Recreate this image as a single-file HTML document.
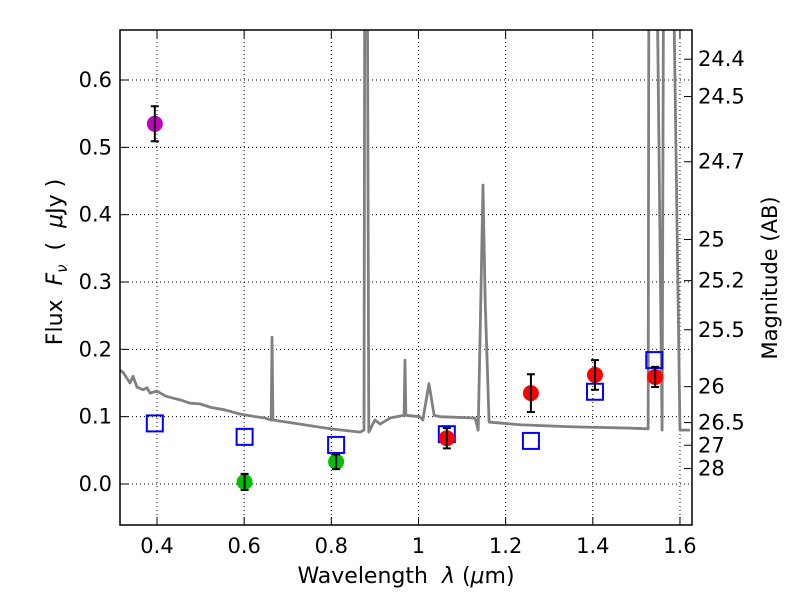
<!DOCTYPE html>
<html><head><meta charset="utf-8"><style>
html,body{margin:0;padding:0;background:#fff;}
svg text{font-family:"DejaVu Sans","Liberation Sans",sans-serif;}
</style></head><body>
<svg id="chart" width="800" height="600" xmlns="http://www.w3.org/2000/svg">
<defs><clipPath id="pc"><rect x="120" y="30" width="572" height="495"/></clipPath></defs>
<rect x="0" y="0" width="800" height="600" fill="#fff"/>
<g id="grid"></g>
<g id="spec" clip-path="url(#pc)"></g>
<g id="marks" clip-path="url(#pc)"></g>
<rect x="120" y="30" width="572" height="495" fill="none" stroke="#000" stroke-width="1.5"/>
<g id="axes"></g>
<text x="406" y="583" font-size="22" text-anchor="middle" xml:space="preserve">Wavelength  <tspan font-style="italic">λ</tspan> (<tspan font-style="italic">μ</tspan>m)</text>
<text transform="translate(62,262) rotate(-90)" font-size="22" text-anchor="middle" xml:space="preserve">Flux  <tspan font-style="italic">F</tspan><tspan font-style="italic" font-size="15" dy="5">ν</tspan><tspan dy="-5">  (  </tspan><tspan font-style="italic">μ</tspan>Jy )</text>
<text transform="translate(777,278) rotate(-90)" font-size="21" text-anchor="middle">Magnitude (AB)</text>
</svg>
<script>
const xTicks=[0.4,0.6,0.8,1.0,1.2,1.4,1.6];
const xTickLabels=["0.4","0.6","0.8","1","1.2","1.4","1.6"];
const yTicks=[0,0.1,0.2,0.3,0.4,0.5,0.6];
const yTickLabels=["0.0","0.1","0.2","0.3","0.4","0.5","0.6"];
const magTicks=[24.4,24.5,24.7,25,25.2,25.5,26,26.5,27,28];
const specLam=[0.315,0.322,0.331,0.338,0.345,0.354,0.368,0.377,0.384,0.4,0.418,0.434,0.453,0.476,0.499,0.522,0.556,0.59,0.625,0.648,0.662,0.664,0.666,0.728,0.797,0.866,0.875,0.877,0.882,0.886,0.9,0.912,0.935,0.958,0.967,0.969,0.971,1.003,1.01,1.024,1.036,1.049,1.13,1.137,1.143,1.148,1.153,1.162,1.233,1.348,1.485,1.527,1.529,1.536,1.545,1.559,1.563,1.572,1.582,1.6,1.623];
const specFlux=[0.169,0.166,0.157,0.150,0.160,0.144,0.140,0.143,0.135,0.138,0.131,0.128,0.125,0.120,0.119,0.114,0.110,0.104,0.100,0.098,0.095,0.218,0.095,0.089,0.082,0.077,0.080,0.9,0.9,0.077,0.095,0.089,0.098,0.101,0.102,0.184,0.102,0.100,0.095,0.149,0.102,0.100,0.098,0.080,0.273,0.444,0.273,0.092,0.088,0.085,0.083,0.082,0.9,0.9,0.9,0.080,0.9,0.9,0.9,0.080,0.080];
const purpleLam=[0.395],purpleFlux=[0.535],purpleErr=[0.026];
const greenLam=[0.601,0.811],greenFlux=[0.003,0.033],greenErr=[0.012,0.011];
const redLam=[1.065,1.258,1.405,1.543],redFlux=[0.068,0.135,0.162,0.159],redErr=[0.015,0.028,0.022,0.015];
const modelLam=[0.395,0.601,0.811,1.065,1.258,1.405,1.541],modelFlux=[0.090,0.070,0.058,0.074,0.064,0.137,0.184];

const X=l=>157+(l-0.4)*435.8;
const Y=f=>484-f*673.3;
const NS="http://www.w3.org/2000/svg";
function mk(tag,parent,attrs){const e=document.createElementNS(NS,tag);for(const k in attrs)e.setAttribute(k,attrs[k]);document.getElementById(parent).appendChild(e);return e;}
xTicks.forEach((t,i)=>{
 const g=mk('line','grid',{x1:X(t),x2:X(t),y1:30,y2:525,stroke:'#000','stroke-width':1,'stroke-dasharray':'1,3'});
 
 
 const a=mk('line','axes',{x1:X(t),x2:X(t),y1:525,y2:517,stroke:'#000'});
 
 
 const b=mk('line','axes',{x1:X(t),x2:X(t),y1:30,y2:38,stroke:'#000'});
 
 
 const tx=mk('text','axes',{x:X(t),y:553,'font-size':21,'text-anchor':'middle'});tx.textContent=xTickLabels[i];
 
 
});
yTicks.forEach((t,i)=>{
 const g=mk('line','grid',{x1:120,x2:692,y1:Y(t),y2:Y(t),stroke:'#000','stroke-width':1,'stroke-dasharray':'1,3'});
 
 
 const a=mk('line','axes',{x1:120,x2:128,y1:Y(t),y2:Y(t),stroke:'#000'});
 
 
 const tx=mk('text','axes',{x:112,y:Y(t)+7,'font-size':21,'text-anchor':'end'});tx.textContent=yTickLabels[i];
 
 
});
magTicks.forEach(m=>{
 const y=Y(Math.pow(10,(23.9-m)/2.5));
 const a=mk('line','axes',{x1:684,x2:692,y1:y,y2:y,stroke:'#000'});
 
 
 const tx=mk('text','axes',{x:698,y:y+7,'font-size':21});tx.textContent=String(m);
 
 
});
const sp=mk('polyline','spec',{points:specLam.map((l,i)=>X(l)+','+Y(specFlux[i])).join(' '),fill:'none',stroke:'#808080','stroke-width':2.8,'stroke-linejoin':'round'});


modelLam.forEach((l,i)=>{
 const r=mk('rect','marks',{x:X(l)-8,y:Y(modelFlux[i])-8,width:16,height:16,fill:'none',stroke:'#0000ff','stroke-width':2});
 
 
});
function pts(L,F,E,col,name){L.forEach((l,i)=>{
 const c=mk('circle','marks',{cx:X(l),cy:Y(F[i]),r:8,fill:col});
 
 
 const x=X(l),y1=Y(F[i]+E[i]),y2=Y(F[i]-E[i]);
 const e=mk('path','marks',{d:`M${x},${y1}V${y2}M${x-4},${y1}H${x+4}M${x-4},${y2}H${x+4}`,stroke:'#000','stroke-width':2,fill:'none'});
 
 
});}
pts(purpleLam,purpleFlux,purpleErr,'#bf00bf','purple-point');
pts(greenLam,greenFlux,greenErr,'#00bf00','green-point');
pts(redLam,redFlux,redErr,'#ff0000','red-point');
</script>
</body></html>
